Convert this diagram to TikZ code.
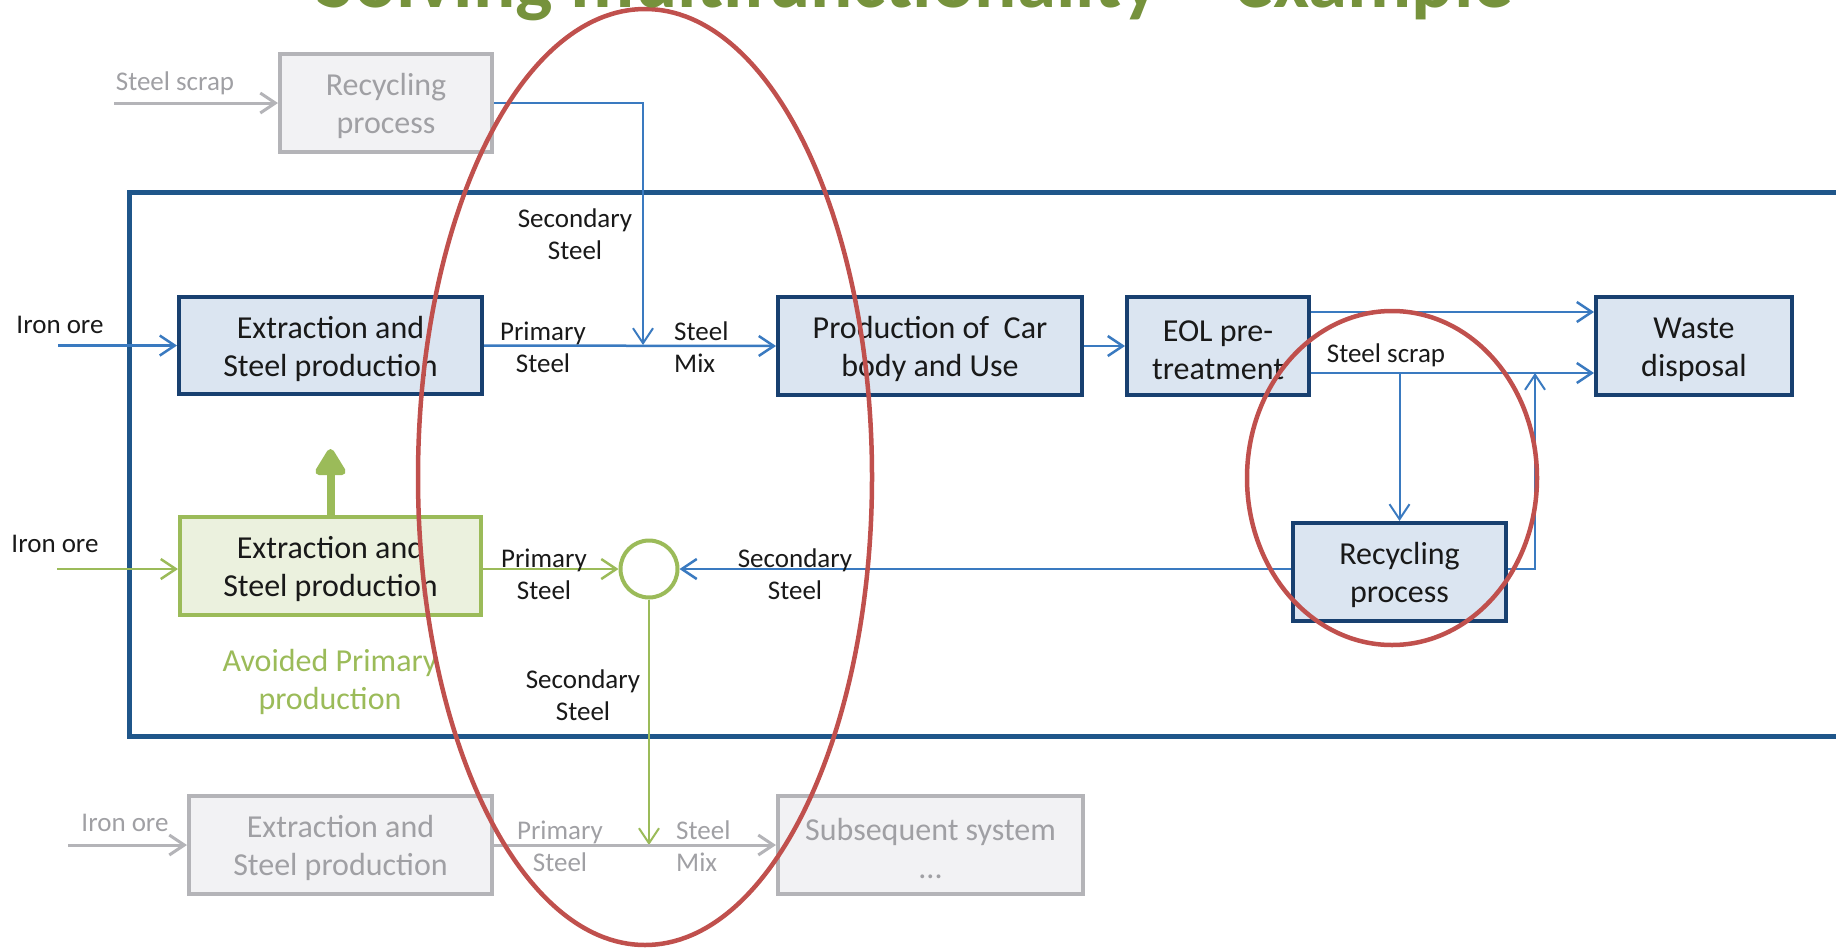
\documentclass[tikz,border=0pt]{standalone}
\usepackage{fontspec}
\setmainfont{Carlito}
\usetikzlibrary{arrows.meta,calc}
\definecolor{framecol}{RGB}{31,86,138}
\definecolor{boxborder}{RGB}{24,64,112}
\definecolor{boxfill}{RGB}{219,229,241}
\definecolor{conncol}{RGB}{58,122,192}
\definecolor{grayborder}{RGB}{180,180,184}
\definecolor{grayfill}{RGB}{242,242,244}
\definecolor{graytext}{RGB}{160,160,164}
\definecolor{grn}{RGB}{155,187,89}
\definecolor{grnfill}{RGB}{235,241,222}
\definecolor{redcol}{RGB}{192,80,77}
\definecolor{titlegreen}{RGB}{118,146,60}
\definecolor{txt}{RGB}{25,25,25}
\begin{document}
\begin{tikzpicture}[x=1pt,y=-1pt,
  boxtext/.style={font=\fontsize{32}{38}\selectfont, align=center},
  boxstrut/.style={execute at begin node={\rule{0pt}{67pt}}},
  bluebox/.style={draw=boxborder, fill=boxfill, line width=4pt, inner sep=0pt, text=txt, boxtext, boxstrut},
  graybox/.style={draw=grayborder, fill=grayfill, line width=4pt, inner sep=0pt, text=graytext, boxtext, boxstrut},
  greenbox/.style={draw=grn, fill=grnfill, line width=4pt, inner sep=0pt, text=txt, boxtext, boxstrut},
  lbl/.style={font=\fontsize{27}{32}\selectfont, align=center, inner sep=0pt, text=txt},
  glbl/.style={lbl, text=graytext},
  tip/.style={-{Straight Barb[length=15pt,width=20pt]}},
  conn/.style={draw=conncol, line width=2.5pt, tip},
  gnconn/.style={draw=grn, line width=2.5pt, tip},
  gyconn/.style={draw=grayborder, line width=3pt, tip},
  redline/.style={draw=redcol, line width=4.5pt},
]
\useasboundingbox (0,0) rectangle (1836,948);
\clip (0,0) rectangle (1836,948);

% system frame
\draw[framecol, line width=5pt] (129,192) rectangle (1838,736);

% boxes
\node[graybox, minimum width=212pt, minimum height=98pt] (recycT) at (386,103) {Recycling\\process};
\node[bluebox, minimum width=303pt, minimum height=97pt] (ext) at (330.5,345.5) {Extraction and\\Steel production};
\node[bluebox, minimum width=304pt, minimum height=98pt] (prod) at (930,346) {Production of\ \ Car\\body and Use};
\node[bluebox, minimum width=182pt, minimum height=98pt] (eol) at (1218,346) {EOL pre-\\treatment};
\node[bluebox, minimum width=196pt, minimum height=98pt] (waste) at (1694,346) {Waste\\disposal};
\node[bluebox, minimum width=213pt, minimum height=98pt] (recyc) at (1399.5,572) {Recycling\\process};
\node[greenbox, minimum width=301pt, minimum height=98pt] (gext) at (330.5,566) {Extraction and\\Steel production};
\node[graybox, minimum width=303pt, minimum height=98pt] (bext) at (340.5,845) {Extraction and\\Steel production};
\node[graybox, minimum width=305pt, minimum height=98pt] (subs) at (930.5,845) {Subsequent system\\...};
\node[circle, draw=grn, line width=4pt, minimum size=57pt, inner sep=0pt] (mix) at (649,569) {};

% helper coordinates
\coordinate (ssin) at (114,103);
\coordinate (j1) at (643,345);
\coordinate (io1) at (58,345.5);
\coordinate (y312) at (0,312);
\coordinate (y373) at (0,373);
\coordinate (j2) at (1535,373);
\coordinate (io2) at (57,569);
\coordinate (j3) at (649,845);
\coordinate (io3) at (68,845);
\coordinate (uptip) at (332,449);

% connectors
\draw[gyconn] (ssin) -- (recycT.west);
\draw[conn, line width=2pt] (recycT.east) -| (j1);
\draw[conn] (io1) -- (ext.west);
\draw[conn] (ext.east) -- (prod.west);
\draw[conn] (prod.east) -- (eol.west);
\draw[conn] (eol.east |- y312) -- (waste.west |- y312);
\draw[conn] (eol.east |- y373) -- (waste.west |- y373);
\draw[conn, line width=2pt] (recyc.north |- y373) -- (recyc.north);
\draw[conn, line width=2pt] (recyc.east |- mix) -| (j2);
\draw[conn] (recyc.west |- mix) -- (mix.east);
\draw[gnconn] (io2) -- (gext.west |- mix);
\draw[gnconn] (gext.east |- mix) -- (mix.west);
\draw[gnconn, line width=2pt] (mix.south) -- (j3);
\draw[gyconn] (io3) -- (bext.west);
\draw[gyconn] (bext.east) -- (subs.west);
\draw[grn, line width=8pt, -{Triangle[length=30pt,width=34pt,round]}] (gext.north) -- (gext.north |- uptip);

% labels
\node[glbl, anchor=base] (lss1) at (175,90) {Steel scrap};
\node[lbl, anchor=base] (lio1) at (60,333) {Iron ore};
\node[lbl] (lsec1) at (575,234) {Secondary\\Steel};
\node[lbl] (lpri1) at (543,347) {Primary\\Steel};
\node[lbl, anchor=west, align=left] (lmix1) at (674,347) {Steel\\Mix};
\node[lbl, anchor=base] (lss2) at (1386,362) {Steel scrap};
\node[lbl, anchor=base] (lio2) at (55,552) {Iron ore};
\node[lbl] (lpri2) at (544,574) {Primary\\Steel};
\node[lbl] (lsec2) at (795,574) {Secondary\\Steel};
\node[lbl] (lsec3) at (583,695) {Secondary\\Steel};
\node[boxtext, text=grn, inner sep=0pt] (lavoid) at (330,682) {Avoided Primary\\production};
\node[glbl, anchor=base] (lio3) at (125,831) {Iron ore};
\node[glbl] (lpri3) at (560,846) {Primary\\Steel};
\node[glbl, anchor=west, align=left] (lmix3) at (676,846) {Steel\\Mix};

% red ellipses
\draw[redline] (645,477) ellipse [x radius=227, y radius=468];
\draw[redline] (1392,478) ellipse [x radius=145, y radius=167];

% title (cut off at top, as in the reference)
\node[anchor=base, inner sep=0pt, text=titlegreen, font=\bfseries\fontsize{79}{90}\selectfont] (title) at (915,7) {Solving multifunctionality – example};
\end{tikzpicture}
\end{document}
